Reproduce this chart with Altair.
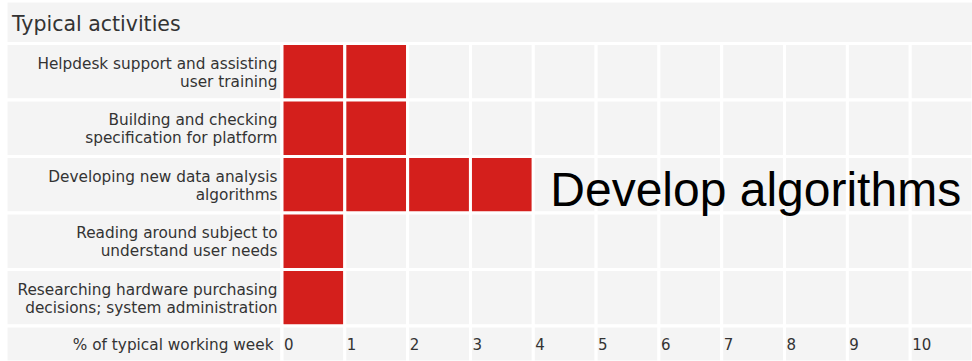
import altair as alt
import pandas as pd

# ---- data ----
categories = [
    "Helpdesk support and assisting\nuser training",
    "Building and checking\nspecification for platform",
    "Developing new data analysis\nalgorithms",
    "Reading around subject to\nunderstand user needs",
    "Researching hardware purchasing\ndecisions; system administration",
]
values = [2, 2, 4, 1, 1]
tick_labels = ["0", "1", "2", "3", "4", "5", "6", "7", "8", "9", "10"]
title_text = "Typical activities"
axis_text = "% of typical working week"
annotation_text = "Develop algorithms"
annotated_index = 2

GRAY = "#f4f4f4"
RED = "#d41f1c"
TEXT = "#333333"
FONT = "DejaVu Sans"

n_cols = len(tick_labels)

cells = pd.DataFrame(
    [
        {"cat": c, "x": i, "x2": i + 1, "on": i < v}
        for c, v in zip(categories, values)
        for i in range(n_cols)
    ]
)
cols = pd.DataFrame(
    {"x": list(range(n_cols)), "x2": [i + 1 for i in range(n_cols)], "label": tick_labels}
)
cats = pd.DataFrame({"cat": categories})
ann = pd.DataFrame(
    {"cat": [categories[annotated_index]], "x": [values[annotated_index]], "text": [annotation_text]}
)
single = pd.DataFrame({"t": [title_text], "a": [axis_text]})

xs = alt.Scale(domain=[0, n_cols], range=[282, 973])
ys = alt.Scale(domain=categories, range=[43.5, 326], paddingInner=0, paddingOuter=0)

X = alt.X("x:Q", scale=xs, axis=None)
Y = alt.Y("cat:N", scale=ys, axis=None, sort=categories)

title_bg = alt.Chart(single).mark_rect(fill=GRAY, stroke="white", strokeWidth=3).encode(
    x=alt.value(6), x2=alt.value(976), y=alt.value(1), y2=alt.value(43.5)
)
label_bg = alt.Chart(cats).mark_rect(fill=GRAY, stroke="white", strokeWidth=3).encode(
    y=Y, x=alt.value(6), x2=alt.value(282)
)
grid = alt.Chart(cells).mark_rect(stroke="white", strokeWidth=3).encode(
    x=X,
    x2="x2:Q",
    y=Y,
    fill=alt.condition("datum.on", alt.value(RED), alt.value(GRAY)),
)
axis_label_bg = alt.Chart(single).mark_rect(fill=GRAY, stroke="white", strokeWidth=3).encode(
    x=alt.value(6), x2=alt.value(282), y=alt.value(326), y2=alt.value(362)
)
axis_bg = alt.Chart(cols).mark_rect(fill=GRAY, stroke="white", strokeWidth=3).encode(
    x=X, x2="x2:Q", y=alt.value(326), y2=alt.value(362)
)
tick_text = alt.Chart(cols).mark_text(
    align="left", baseline="middle", dx=2, font=FONT, fontSize=15, color=TEXT
).encode(x=X, y=alt.value(345), text="label:N")
axis_title = alt.Chart(single).mark_text(
    align="right", baseline="middle", font=FONT, fontSize=15.3, color=TEXT
).encode(x=alt.value(273.5), y=alt.value(345), text="a:N")
labels = alt.Chart(cats).mark_text(
    align="right", baseline="middle", lineBreak="\n", lineHeight=18,
    font=FONT, fontSize=15.3, color=TEXT, dy=-8,
).encode(x=alt.value(277.5), y=Y, text="cat:N")
title = alt.Chart(single).mark_text(
    align="left", baseline="alphabetic", font=FONT, fontSize=20.5, color=TEXT
).encode(x=alt.value(12), y=alt.value(31), text="t:N")
annotation = alt.Chart(ann).mark_text(
    align="left", baseline="alphabetic", dx=17, dy=21,
    font="Liberation Sans", fontSize=48, color="black",
).encode(x=X, y=Y, text="text:N")

chart = alt.layer(
    title_bg, label_bg, grid, axis_label_bg, axis_bg,
    tick_text, axis_title, labels, title, annotation,
).properties(
    width=972,
    height=361,
    autosize=alt.AutoSizeParams(type="none"),
    padding=0,
    background="white",
).configure_view(strokeWidth=0)

chart.save("out.html", embed_options={"renderer": "svg", "actions": False})
